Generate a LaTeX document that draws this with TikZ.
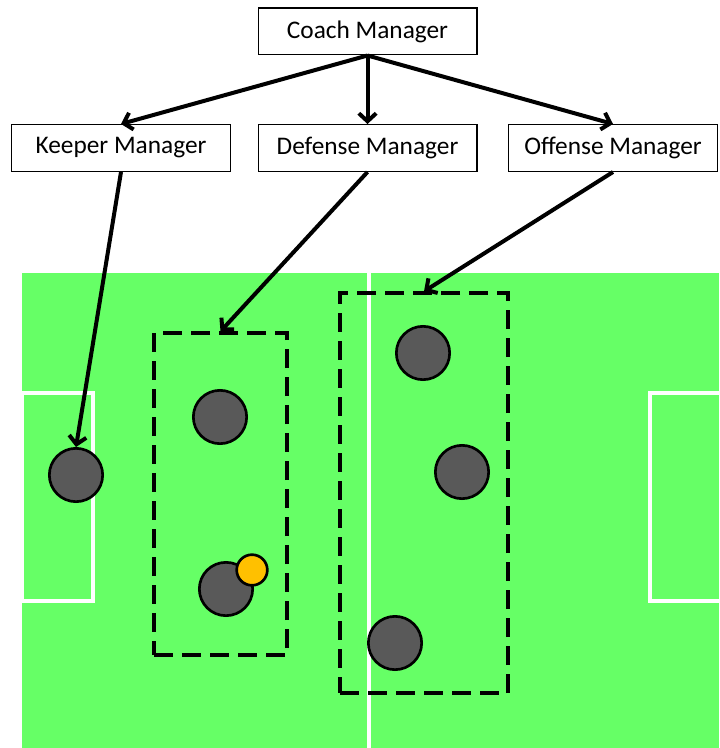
\documentclass[tikz,border=0pt]{standalone}
\usepackage{fontspec}
\setmainfont{Carlito}
\usetikzlibrary{arrows.meta}

\begin{document}
\begin{tikzpicture}[
	x=0.75pt, y=-0.75pt,
	manager/.style={draw, line width=1pt, fill=white, minimum width=164pt, minimum height=35pt, inner sep=0pt, font=\fontsize{19}{22}\selectfont},
	player/.style={circle, draw, line width=2pt, fill={rgb,255:red,89;green,89;blue,89}, minimum size=40pt, inner sep=0pt},
	ball/.style={circle, draw, line width=2pt, fill={rgb,255:red,255;green,192;blue,0}, minimum size=23pt, inner sep=0pt},
	zone/.style={draw, line width=2.4pt, dash pattern=on 14pt off 7pt, inner sep=0pt},
	order/.style={-{Straight Barb[length=6pt, width=13pt]}, line width=3pt},
	pitchline/.style={white, line width=3pt}]
\useasboundingbox (0,0) rectangle (719,748);
% pitch
\fill[fill={rgb,255:red,102;green,255;blue,102}] (22,273) rectangle (719,748);
\draw[pitchline] (369,273) -- (369,748);
\draw[pitchline] (22,393) rectangle (93,601);
\draw[pitchline] (719,393) -- (650,393) -- (650,601) -- (719,601);
% managers
\node[manager] (coach) at (367.5,31.5) {Coach Manager};
\node[manager] (keeper) at (121,148) {Keeper Manager};
\node[manager] (defense) at (367.5,148) {Defense Manager};
\node[manager, minimum width=157pt] (offense) at (613,148) {Offense Manager};
% zones
\node[zone, minimum width=99.75pt, minimum height=241.5pt] (defzone) at (220.5,494) {};
\node[zone, minimum width=126pt, minimum height=300pt] (offzone) at (424,493) {};
% players
\node[player] (goalie) at (76,475) {};
\node[player] (back1) at (220,417) {};
\node[player] (back2) at (226,589) {};
\node[ball] (theball) at (252,570) {};
\node[player] (fwd1) at (423,353) {};
\node[player] (fwd2) at (462,472) {};
\node[player] (fwd3) at (395,643) {};
% orders
\draw[order] (coach.south) -- (keeper.north);
\draw[order] (coach.south) -- (defense.north);
\draw[order] (coach.south) -- (offense.north);
\draw[order] (keeper.south) -- (goalie.north);
\draw[order] (defense.south) -- (defzone.north);
\draw[order] (offense.south) -- (offzone.north);
\end{tikzpicture}
\end{document}
